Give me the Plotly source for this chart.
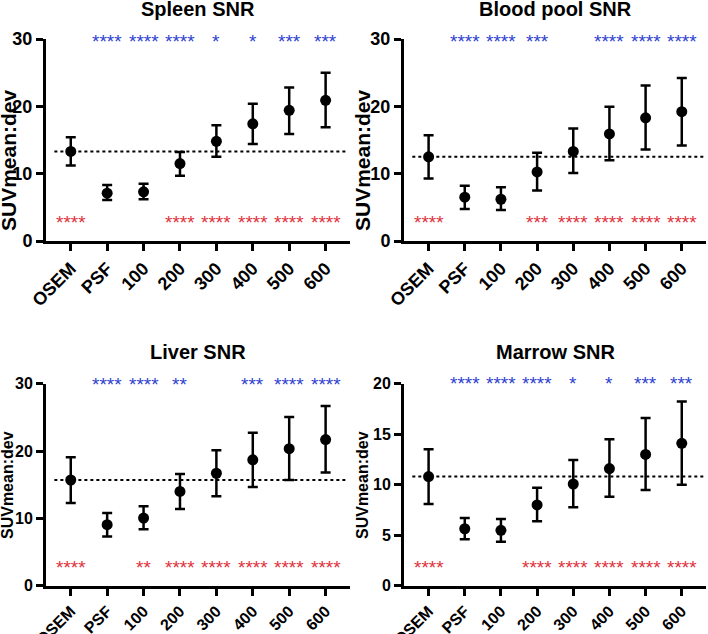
import plotly.graph_objects as go

categories = ["OSEM", "PSF", "100", "200", "300", "400", "500", "600"]

spleen_mean = [13.3, 7.1, 7.3, 11.5, 14.8, 17.4, 19.4, 20.9]
spleen_hi = [15.4, 8.3, 8.5, 13.2, 17.2, 20.4, 22.8, 25.0]
spleen_lo = [11.2, 6.1, 6.2, 9.7, 12.5, 14.4, 15.9, 16.9]
spleen_blue = ["", "****", "****", "****", "*", "*", "***", "***"]
spleen_red = ["****", "", "", "****", "****", "****", "****", "****"]

blood_mean = [12.5, 6.5, 6.2, 10.25, 13.3, 15.9, 18.3, 19.2]
blood_hi = [15.7, 8.2, 8.0, 13.1, 16.7, 19.95, 23.1, 24.2]
blood_lo = [9.3, 4.75, 4.6, 7.5, 10.1, 12.0, 13.6, 14.2]
blood_blue = ["", "****", "****", "***", "", "****", "****", "****"]
blood_red = ["****", "", "", "***", "****", "****", "****", "****"]

liver_mean = [15.7, 9.06, 10.05, 14.0, 16.7, 18.7, 20.35, 21.7]
liver_hi = [19.06, 10.8, 11.8, 16.6, 20.1, 22.7, 25.05, 26.7]
liver_lo = [12.3, 7.3, 8.4, 11.4, 13.3, 14.65, 15.7, 16.8]
liver_blue = ["", "****", "****", "**", "", "***", "****", "****"]
liver_red = ["****", "", "**", "****", "****", "****", "****", "****"]

marrow_mean = [10.8, 5.64, 5.48, 8.0, 10.07, 11.6, 13.0, 14.1]
marrow_hi = [13.5, 6.7, 6.6, 9.7, 12.44, 14.5, 16.6, 18.25]
marrow_lo = [8.1, 4.6, 4.36, 6.37, 7.76, 8.8, 9.47, 10.0]
marrow_blue = ["", "****", "****", "****", "*", "*", "***", "***"]
marrow_red = ["****", "", "", "****", "****", "****", "****", "****"]

y_title = "SUVmean:dev"

panels = [
    dict(title="Spleen SNR", mean=spleen_mean, hi=spleen_hi, lo=spleen_lo,
         blue=spleen_blue, red=spleen_red, ymax=30, ticks=[0, 10, 20, 30],
         blue_y=30.1, red_y=3.2),
    dict(title="Blood pool SNR", mean=blood_mean, hi=blood_hi, lo=blood_lo,
         blue=blood_blue, red=blood_red, ymax=30, ticks=[0, 10, 20, 30],
         blue_y=30.1, red_y=3.2),
    dict(title="Liver SNR", mean=liver_mean, hi=liver_hi, lo=liver_lo,
         blue=liver_blue, red=liver_red, ymax=30, ticks=[0, 10, 20, 30],
         blue_y=30.4, red_y=3.2),
    dict(title="Marrow SNR", mean=marrow_mean, hi=marrow_hi, lo=marrow_lo,
         blue=marrow_blue, red=marrow_red, ymax=20, ticks=[0, 5, 10, 15, 20],
         blue_y=20.3, red_y=2.1),
]

W, H = 708, 634
xdoms = [(46, 350), (404, 706), (46, 350), (404, 706)]
ydoms = [(39, 241), (39, 241), (383.7, 585.7), (383.7, 585.7)]
title_y = [9, 9, 352, 352]
ytitle_pos = [(8, 160, 21), (362, 160, 21), (7, 485, 16), (362, 485, 16)]
xtick_size = [18, 18, 16, 16]
ytick_size = [18, 18, 16, 16]

FONT = "Liberation Sans, Arial, sans-serif"
BLUE = "#2f3fd0"
RED = "#e0323c"
STAR_SIZE = 19
STAR_SHIFT = -3

fig = go.Figure()
layout = dict(width=W, height=H, margin=dict(l=0, r=0, t=0, b=0),
              plot_bgcolor="white", paper_bgcolor="white", showlegend=False,
              hovermode=False,
              font=dict(family=FONT, color="black"))
annotations = []
shapes = []
xs = list(range(len(categories)))

for i, p in enumerate(panels):
    n = i + 1
    xa = "x" if n == 1 else f"x{n}"
    ya = "y" if n == 1 else f"y{n}"
    x0, x1 = xdoms[i]
    yt, yb = ydoms[i]
    px_per_unit = (yb - yt) / p["ymax"]
    up = [h - m for h, m in zip(p["hi"], p["mean"])]
    dn = [m - l for m, l in zip(p["mean"], p["lo"])]
    fig.add_trace(go.Scatter(
        x=xs, y=p["mean"], mode="markers", xaxis=xa, yaxis=ya,
        marker=dict(color="black", size=11),
        error_y=dict(type="data", symmetric=False, array=up, arrayminus=dn,
                     color="black", thickness=2.5, width=5),
        cliponaxis=False))
    blue_shift = STAR_SHIFT + (p["blue_y"] - p["ymax"]) * px_per_unit
    for xi, t in zip(xs, p["blue"]):
        if t:
            annotations.append(dict(text=t, x=xi, y=p["ymax"], xref=xa, yref=ya,
                                    showarrow=False, xanchor="center", yanchor="middle",
                                    yshift=blue_shift,
                                    font=dict(family=FONT, size=STAR_SIZE, color=BLUE)))
    for xi, t in zip(xs, p["red"]):
        if t:
            annotations.append(dict(text=t, x=xi, y=p["red_y"], xref=xa, yref=ya,
                                    showarrow=False, xanchor="center", yanchor="middle",
                                    yshift=STAR_SHIFT,
                                    font=dict(family=FONT, size=STAR_SIZE, color=RED)))
    shapes.append(dict(type="line", xref=xa, yref=ya, x0=-0.45, x1=7.6,
                       y0=p["mean"][0], y1=p["mean"][0],
                       line=dict(color="black", width=2, dash="dot"), layer="below"))
    axis_common = dict(showline=True, linecolor="black", linewidth=3,
                       ticks="outside", ticklen=7, tickwidth=3, tickcolor="black",
                       showgrid=False, zeroline=False, automargin=False, fixedrange=True)
    layout["xaxis" if n == 1 else f"xaxis{n}"] = dict(
        domain=[x0 / W, x1 / W], range=[-0.68, 7.67], anchor=ya,
        tickvals=xs, ticktext=categories, tickangle=-45,
        tickfont=dict(family=FONT, size=xtick_size[i], color="black", weight="bold"),
        **axis_common)
    layout["yaxis" if n == 1 else f"yaxis{n}"] = dict(
        domain=[1 - yb / H, 1 - yt / H], range=[0, p["ymax"]], anchor=xa,
        tickvals=p["ticks"],
        tickfont=dict(family=FONT, size=ytick_size[i], color="black", weight="bold"),
        **axis_common)
    tx, ty, ts = ytitle_pos[i]
    annotations.append(dict(text=y_title, x=tx / W, y=1 - ty / H, xref="paper", yref="paper",
                            showarrow=False, textangle=-90, xanchor="center", yanchor="middle",
                            font=dict(family=FONT, size=ts, color="black", weight="bold")))
    annotations.append(dict(text=p["title"], x=(x0 + x1) / 2 / W, y=1 - title_y[i] / H,
                            xref="paper", yref="paper", showarrow=False,
                            xanchor="center", yanchor="middle",
                            font=dict(family=FONT, size=20, color="black", weight="bold")))

layout["annotations"] = annotations
layout["shapes"] = shapes
fig.update_layout(**layout)
fig.write_html("out.html", config={"displayModeBar": False},
               post_script="document.body.style.margin='0';document.body.style.overflow='hidden';")
